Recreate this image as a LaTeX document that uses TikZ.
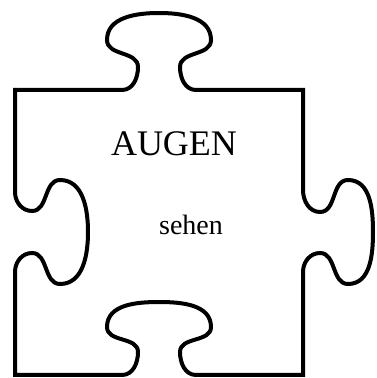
\documentclass[tikz,border=0pt]{standalone}
\usepackage{fontspec}
\setmainfont{Liberation Serif}
\usetikzlibrary{positioning}

\begin{document}
\begin{tikzpicture}[
    x=1pt, y=1pt,
    piece/.style={draw=black, line width=4pt, line join=miter, fill=white},
    bigword/.style={font=\fontsize{36}{40}\selectfont, anchor=base, inner sep=0pt},
    smallword/.style={font=\fontsize{28}{32}\selectfont, anchor=base, inner sep=0pt},
  ]
    \useasboundingbox (0,0) rectangle (376,378);

    % puzzle piece, clockwise from the top left corner
    \draw[piece] (15,288) -- (122,288)
      to[out=0,in=-90] (138,311) to[out=90,in=-90] (107,338)
      to[out=90,in=180] (159,365) to[out=0,in=90] (211,338)
      to[out=-90,in=90] (180,311) to[out=-90,in=180] (196,288)
      -- (303,288) -- (303,188)
      to[out=-90,in=180] (320,166) to[out=0,in=180] (348,198)
      to[out=0,in=90] (373,146) to[out=-90,in=0] (348,94)
      to[out=180,in=0] (320,125) to[out=180,in=90] (303,106)
      -- (303,3) -- (196,3)
      to[out=180,in=-90] (180,26) to[out=90,in=-90] (211,51)
      to[out=90,in=0] (159,76) to[out=180,in=90] (107,51)
      to[out=-90,in=90] (138,26) to[out=-90,in=0] (122,3)
      -- (15,3) -- (15,106)
      to[out=90,in=180] (32,125) to[out=0,in=180] (60,94)
      to[out=0,in=-90] (88,146) to[out=90,in=0] (60,198)
      to[out=180,in=0] (32,167) to[out=180,in=-90] (15,186)
      -- cycle;

    \node[bigword]   (organ) at (174,222) {AUGEN};
    \node[smallword] (sense) at (191,143) {sehen};
  \end{tikzpicture}
\end{document}
